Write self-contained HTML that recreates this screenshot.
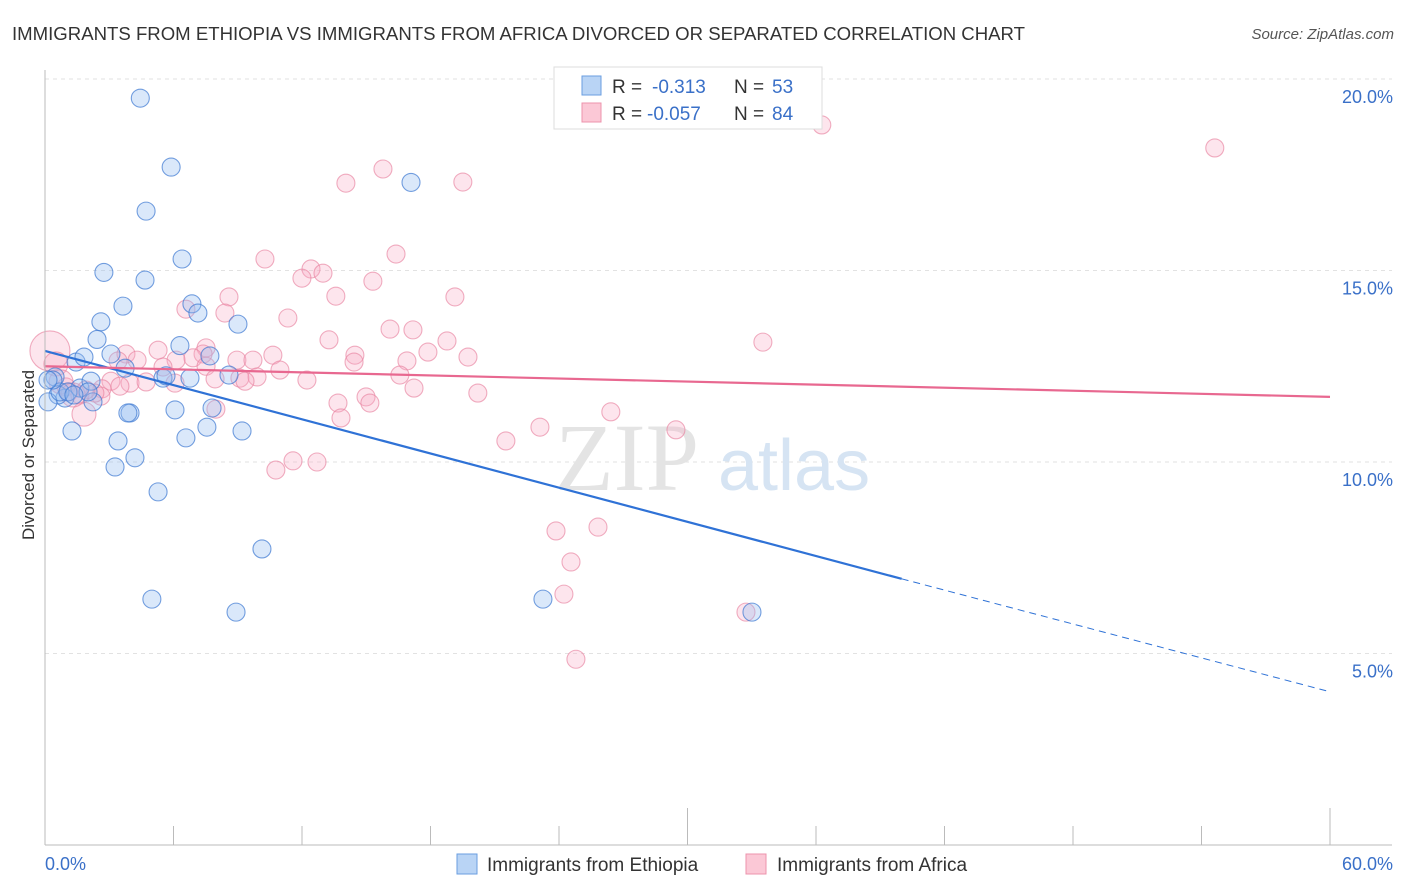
<!DOCTYPE html>
<html><head><meta charset="utf-8"><style>
body{margin:0;background:#fff;font-family:"Liberation Sans",sans-serif}
svg{display:block}
</style></head><body>
<svg width="1406" height="892" viewBox="0 0 1406 892">
<text x="12" y="40" font-size="18.6" fill="#333" textLength="1013">IMMIGRANTS FROM ETHIOPIA VS IMMIGRANTS FROM AFRICA DIVORCED OR SEPARATED CORRELATION CHART</text>
<text x="1394" y="39" font-size="15" fill="#555" font-style="italic" text-anchor="end">Source: ZipAtlas.com</text>
<g id="grid"></g>
<text x="555" y="490" font-size="96" fill="#e4e4e4" font-family="Liberation Serif">ZIP</text>
<text x="718" y="490" font-size="72" fill="#d6e4f3">atlas</text>
<g id="pts"></g>
<g id="lines"></g>
<line x1="45" y1="70" x2="45" y2="845" stroke="#bbb"/>
<line x1="45" y1="845" x2="1392" y2="845" stroke="#bbb"/>
<text transform="translate(34,455) rotate(-90)" font-size="17" fill="#333" text-anchor="middle">Divorced or Separated</text>
<text x="45" y="870" font-size="18" fill="#3a70c8">0.0%</text>
<text x="1393" y="870" font-size="18" fill="#3a70c8" text-anchor="end">60.0%</text>
<g>
<rect x="554" y="67" width="268" height="62" fill="#fff" stroke="#ddd"/>
<rect x="582" y="76" width="19" height="19" fill="#b9d4f5" stroke="#6a9ee0"/>
<rect x="582" y="103" width="19" height="19" fill="#fbc8d6" stroke="#ec93ac"/>
<text x="612" y="93" font-size="19" fill="#333">R =</text>
<text x="652" y="93" font-size="19" fill="#3a70c8">-0.313</text>
<text x="734" y="93" font-size="19" fill="#333">N =</text>
<text x="772" y="93" font-size="19" fill="#3a70c8">53</text>
<text x="612" y="120" font-size="19" fill="#333">R =</text>
<text x="647" y="120" font-size="19" fill="#3a70c8">-0.057</text>
<text x="734" y="120" font-size="19" fill="#333">N =</text>
<text x="772" y="120" font-size="19" fill="#3a70c8">84</text>
</g>
<g>
<rect x="457" y="854" width="20" height="20" fill="#b9d4f5" stroke="#6a9ee0"/>
<text x="487" y="871" font-size="19" fill="#333">Immigrants from Ethiopia</text>
<rect x="746" y="854" width="20" height="20" fill="#fbc8d6" stroke="#ec93ac"/>
<text x="777" y="871" font-size="19" fill="#333">Immigrants from Africa</text>
</g>
</svg>
<script>
const yTicks=[5,10,15,20];
const xTicks=[6,12,18,24,30,36,42,48,54,60];
const ethX=[4.45,5.89,4.72,17.09,6.4,2.75,4.67,3.64,6.86,7.14,2.61,9.01,2.43,6.3,3.08,7.7,1.45,1.82,0.47,3.74,5.51,6.77,8.59,1.63,2.15,0.93,0.61,0.14,2.24,3.97,3.87,6.07,7.8,1.26,7.56,9.2,6.58,3.41,4.2,3.27,5.28,10.13,4.99,8.92,23.25,33.01,0.7,0.37,2.01,1.07,1.35,5.65,0.14];
const ethY=[19.5,17.7,16.55,17.3,15.3,14.95,14.75,14.07,14.13,13.89,13.66,13.6,13.2,13.04,12.82,12.77,12.61,12.74,12.22,12.45,12.19,12.19,12.27,11.93,12.11,11.67,11.75,11.57,11.57,11.28,11.28,11.36,11.41,10.81,10.91,10.81,10.63,10.55,10.11,9.87,9.22,7.73,6.42,6.08,6.42,6.08,11.83,12.14,11.83,11.83,11.75,12.25,12.14];
const afrX=[36.27,54.62,15.78,14.05,19.51,16.39,10.27,12.42,12.98,11.997,15.31,8.59,13.58,19.14,6.58,8.4,11.34,16.11,17.18,13.26,18.77,33.52,7.52,17.88,3.78,5.28,7.38,14.47,19.75,10.64,8.96,9.71,16.9,14.43,6.12,6.91,4.3,3.41,7.52,5.51,10.97,16.57,9.1,9.9,12.23,9.34,3.08,3.97,4.72,6.07,7.94,3.5,17.23,2.66,0.98,20.21,14.99,2.61,13.68,15.17,1.12,2.33,1.63,1.91,7.98,26.42,13.82,23.11,29.46,21.52,11.58,12.7,10.78,23.86,25.82,24.56,24.23,24.79,32.73,0.23,0.51,0.75,1.82,1.31];
const afrY=[18.8,18.2,17.65,17.28,17.31,15.43,15.3,15.04,14.93,14.8,14.72,14.31,14.33,14.31,13.99,13.89,13.76,13.47,13.45,13.19,13.16,13.13,12.98,12.87,12.82,12.92,12.82,12.79,12.74,12.79,12.66,12.66,12.64,12.61,12.66,12.72,12.66,12.64,12.5,12.48,12.4,12.27,12.19,12.22,12.14,12.11,12.11,12.06,12.09,12.06,12.17,11.98,11.93,11.91,11.96,11.8,11.7,11.72,11.54,11.54,11.83,11.8,11.75,11.88,11.38,11.31,11.15,10.91,10.84,10.55,10.03,10.0,9.79,8.2,8.3,7.39,6.55,4.85,6.08,12.9,12.56,12.09,11.25,11.75];
const afrR=[9,9,9,9,9,9,9,9,9,9,9,9,9,9,9,9,9,9,9,9,9,9,9,9,9,9,9,9,9,9,9,9,9,9,9,9,9,9,9,9,9,9,9,9,9,9,9,9,9,9,9,9,9,9,9,9,9,9,9,9,9,9,9,9,9,9,9,9,9,9,9,9,9,9,9,9,9,9,9,20,12,12,12,12];
const ethTrend=[12.9,6.95,4.0];
const afrTrend=[12.5,11.7];
const X=v=>45+v*(1285/60), Y=v=>845-v*38.3;
const NS='http://www.w3.org/2000/svg';
function mk(t,a,p){const e=document.createElementNS(NS,t);for(const k in a)e.setAttribute(k,a[k]);p.appendChild(e);return e;}
const g=document.getElementById('grid');
yTicks.forEach(v=>{
 const l=mk('line',{x1:45,x2:1392,y1:Y(v),y2:Y(v),stroke:'#e2e2e2','stroke-dasharray':'4,4'},g);
 
 
 const t=mk('text',{x:1393,y:Y(v)+24,'font-size':18,fill:'#3a70c8','text-anchor':'end'},g);
 t.textContent=v.toFixed(1)+'%';
 
 
});
xTicks.forEach(v=>{
 const l=mk('line',{x1:X(v),x2:X(v),y1:(v===30||v===60)?808:826,y2:845,stroke:'#bbb'},g);
 
 
});
const p=document.getElementById('pts');
afrX.forEach((x,i)=>{
 const c=mk('circle',{cx:X(x),cy:Y(afrY[i]),r:afrR[i],fill:'rgba(248,170,195,0.3)',stroke:'rgba(232,130,160,0.65)','stroke-width':1.1},p);
 
 
});
ethX.forEach((x,i)=>{
 const c=mk('circle',{cx:X(x),cy:Y(ethY[i]),r:9,fill:'rgba(150,190,240,0.35)',stroke:'rgba(60,120,210,0.7)','stroke-width':1.1},p);
 
 
});
const L=document.getElementById('lines');
let e=mk('line',{x1:X(0),y1:Y(ethTrend[0]),x2:X(40),y2:Y(ethTrend[1]),stroke:'#2f72d6','stroke-width':2.2},L);


e=mk('line',{x1:X(40),y1:Y(ethTrend[1]),x2:X(60),y2:Y(ethTrend[2]),stroke:'#2f72d6','stroke-width':1,'stroke-dasharray':'7,5'},L);


e=mk('line',{x1:X(0),y1:Y(afrTrend[0]),x2:X(60),y2:Y(afrTrend[1]),stroke:'#e86890','stroke-width':2.2},L);


</script>
</body></html>
